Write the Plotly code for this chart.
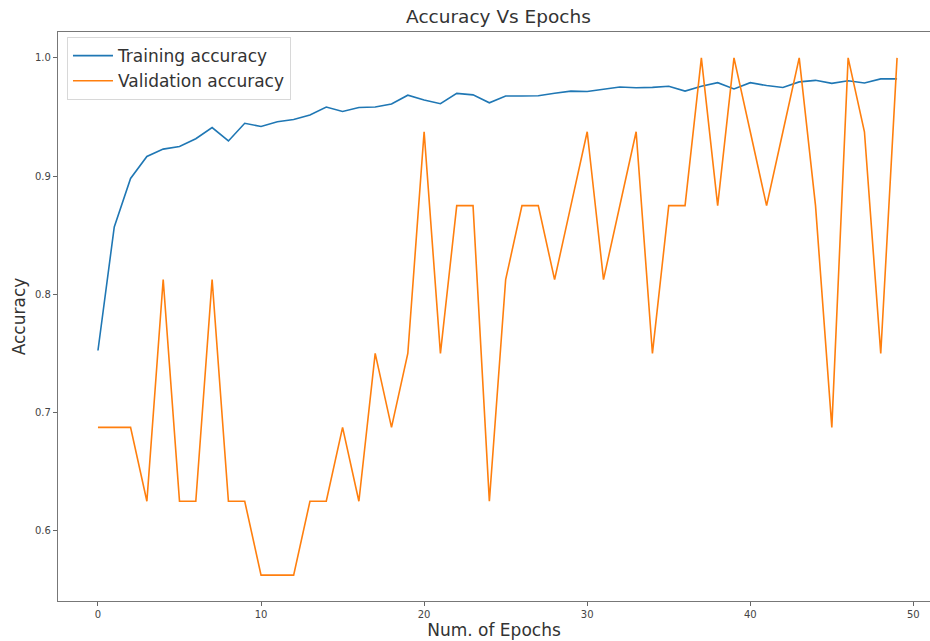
import plotly.graph_objects as go

epochs = list(range(50))
training_accuracy = [
    0.7525, 0.857, 0.898, 0.9166, 0.9228, 0.925, 0.9316, 0.941, 0.9297, 0.9447,
    0.942, 0.946, 0.9478, 0.9516, 0.9584, 0.9547, 0.958, 0.9584, 0.961, 0.9684,
    0.9644, 0.9612, 0.970, 0.9687, 0.962, 0.9678, 0.9678, 0.968, 0.970, 0.9719,
    0.9716, 0.9737, 0.9753, 0.9747, 0.975, 0.976, 0.9719, 0.976, 0.979, 0.9737,
    0.979, 0.9766, 0.975, 0.9797, 0.981, 0.9784, 0.9806, 0.9787, 0.9822, 0.9822,
]
validation_accuracy = [
    0.6875, 0.6875, 0.6875, 0.625, 0.8125, 0.625, 0.625, 0.8125, 0.625, 0.625,
    0.5625, 0.5625, 0.5625, 0.625, 0.625, 0.6875, 0.625, 0.75, 0.6875, 0.75,
    0.9375, 0.75, 0.875, 0.875, 0.625, 0.8125, 0.875, 0.875, 0.8125, 0.875,
    0.9375, 0.8125, 0.875, 0.9375, 0.75, 0.875, 0.875, 1.0, 0.875, 1.0,
    0.9375, 0.875, 0.9375, 1.0, 0.875, 0.6875, 1.0, 0.9375, 0.75, 1.0,
]
x_ticks = [0, 10, 20, 30, 40, 50]
y_ticks = [0.6, 0.7, 0.8, 0.9, 1.0]
y_tick_labels = ["0.6", "0.7", "0.8", "0.9", "1.0"]

font_family = "DejaVu Sans, Liberation Sans, sans-serif"

fig = go.Figure()
fig.add_trace(go.Scatter(x=epochs, y=training_accuracy, mode="lines",
                         name="Training accuracy",
                         line=dict(color="#1f77b4", width=1.6)))
fig.add_trace(go.Scatter(x=epochs, y=validation_accuracy, mode="lines",
                         name="Validation accuracy",
                         line=dict(color="#ff7f0e", width=1.6)))

fig.update_layout(
    width=930, height=641,
    margin=dict(l=58, r=0, t=32, b=40, autoexpand=False),
    paper_bgcolor="white", plot_bgcolor="white",
    font=dict(family=font_family, color="#333"),
    title=dict(text="Accuracy Vs Epochs", x=0.536, xanchor="center",
               y=1 - 17 / 641, yanchor="middle",
               font=dict(size=18.5, color="#333")),
    showlegend=True,
    legend=dict(x=0.0103, y=0.991, xanchor="left", yanchor="top",
                bgcolor="rgba(255,255,255,0.9)", bordercolor="#d8d8d8", borderwidth=1,
                font=dict(size=17, color="#333"), tracegroupgap=0,
                itemwidth=40),
    xaxis=dict(range=[-2.45, 51.02], tickvals=x_ticks, ticks="outside",
               ticklen=4, tickcolor="#666", showgrid=False, zeroline=False,
               showline=True, linecolor="#777", linewidth=1.3, mirror=True,
               automargin=False,
               tickfont=dict(size=10, color="#444"),
               title=dict(text="Num. of Epochs", font=dict(size=17, color="#333"),
                          standoff=2)),
    yaxis=dict(range=[0.540625, 1.021875], tickvals=y_ticks, ticktext=y_tick_labels,
               ticks="outside", ticklen=4, tickcolor="#666", showgrid=False,
               zeroline=False, showline=True, linecolor="#777", linewidth=1.3,
               automargin=False,
               tickfont=dict(size=10, color="#444"),
               title=dict(text="Accuracy", font=dict(size=17, color="#333"),
                          standoff=4)),
)

fig.write_html("out.html", config={"displayModeBar": False},
               post_script="document.body.style.margin='0';document.body.style.overflow='hidden';")
